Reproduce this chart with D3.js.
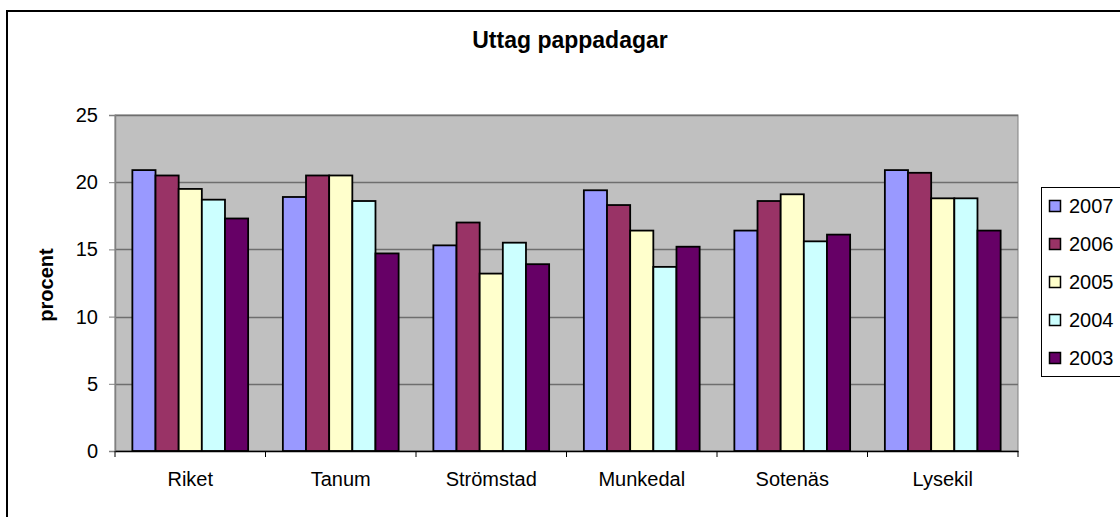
<!DOCTYPE html>
<html>
<head>
<meta charset="utf-8">
<script src="https://cdn.jsdelivr.net/npm/d3@7"></script>
<style>
  body { margin: 0; background: #fff; }
  text { font-family: "Liberation Sans", Arial, sans-serif; fill: #000; }
</style>
</head>
<body>
<svg class="chart" width="1120" height="517"></svg>
<script>
"use strict";

var categories = ['Riket', 'Tanum', 'Strömstad', 'Munkedal', 'Sotenäs', 'Lysekil'];
var years = ['2007', '2006', '2005', '2004', '2003'];
var colors = ['#9999FF', '#993366', '#FFFFCC', '#CCFFFF', '#660066'];
var v2007 = [20.9, 18.9, 15.3, 19.4, 16.4, 20.9];
var v2006 = [20.5, 20.5, 17.0, 18.3, 18.6, 20.7];
var v2005 = [19.5, 20.5, 13.2, 16.4, 19.1, 18.8];
var v2004 = [18.7, 18.6, 15.5, 13.7, 15.6, 18.8];
var v2003 = [17.3, 14.7, 13.9, 15.2, 16.1, 16.4];
var yTicks = [0, 5, 10, 15, 20, 25];

var series = [v2007, v2006, v2005, v2004, v2003];
var FONT = '"Liberation Sans", Arial, sans-serif';

var svg = d3.select('.chart');
var plot = {left: 115, top: 115, right: 1018, bottom: 451};

// outer frame (runs past right and bottom edge)
svg.append('rect')
  .attr('x', 7).attr('y', 11).attr('width', 1140).attr('height', 540)
  .attr('fill', '#fff').attr('stroke', '#000').attr('stroke-width', 2);

var x0 = d3.scaleBand().domain(categories).range([plot.left, plot.right]);
// excel style: gap width 150% of a bar
var x1 = d3.scaleBand().domain(years)
  .range([x0.bandwidth() * 0.75 / 6.5, x0.bandwidth() * 5.75 / 6.5]);
var y = d3.scaleLinear().domain([0, 25]).range([plot.bottom, plot.top]);

svg.append('rect')
  .attr('x', plot.left).attr('y', plot.top)
  .attr('width', plot.right - plot.left).attr('height', plot.bottom - plot.top)
  .attr('fill', '#C0C0C0').attr('stroke', '#808080').attr('stroke-width', 1);

// gridlines
svg.append('g').selectAll('line').data(yTicks.slice(1)).enter().append('line')
  .attr('x1', plot.left).attr('x2', plot.right)
  .attr('y1', function (d) { return Math.round(y(d)) + 0.5; })
  .attr('y2', function (d) { return Math.round(y(d)) + 0.5; })
  .attr('stroke', '#6e6e6e').attr('stroke-width', 1.5);

// bars
series.forEach(function (vals, si) {
  svg.append('g').selectAll('rect').data(vals).enter().append('rect')
    .attr('x', function (d, i) { return x0(categories[i]) + x1(years[si]); })
    .attr('y', function (d) { return y(d); })
    .attr('width', x1.bandwidth())
    .attr('height', function (d) { return y(0) - y(d); })
    .attr('fill', colors[si])
    .attr('stroke', '#000').attr('stroke-width', 1.8);
});

// y axis
var yAxis = d3.axisLeft(y).tickValues(yTicks).tickSize(6).tickPadding(11).tickFormat(d3.format('d'));
var ga = svg.append('g').attr('transform', 'translate(' + plot.left + ',0)').call(yAxis);
ga.select('.domain').attr('stroke', '#808080').attr('stroke-width', 1.5);
ga.selectAll('.tick line').attr('stroke', '#808080');
ga.selectAll('.tick text').attr('font-size', '20px').attr('font-family', FONT).attr('fill', '#000');

// x axis
var xAxis = d3.axisBottom(x0).tickSize(0).tickPadding(21);
var gx = svg.append('g').attr('transform', 'translate(0,' + plot.bottom + ')').call(xAxis);
gx.select('.domain').attr('stroke', '#000').attr('stroke-width', 1.5);
gx.selectAll('.tick text').attr('font-size', '20px').attr('font-family', FONT).attr('fill', '#000');
gx.selectAll('.sep').data(d3.range(categories.length + 1)).enter().append('line')
  .attr('x1', function (i) { return plot.left + i * x0.bandwidth(); })
  .attr('x2', function (i) { return plot.left + i * x0.bandwidth(); })
  .attr('y1', 0).attr('y2', 6).attr('stroke', '#000');

// title and axis label
svg.append('text').attr('x', 570).attr('y', 48).attr('text-anchor', 'middle')
  .attr('font-size', '23px').attr('font-weight', 'bold').text('Uttag pappadagar');
svg.append('text').attr('transform', 'translate(53,285) rotate(-90)').attr('text-anchor', 'middle')
  .attr('font-size', '20px').attr('font-weight', 'bold').text('procent');

// legend
var lg = svg.append('g');
lg.append('rect').attr('x', 1041.5).attr('y', 187.5).attr('width', 100).attr('height', 189)
  .attr('fill', '#fff').attr('stroke', '#000').attr('stroke-width', 1);
years.forEach(function (yr, i) {
  var base = 213 + i * 38;
  lg.append('rect').attr('x', 1049.5).attr('y', base - 12.5).attr('width', 11).attr('height', 11)
    .attr('fill', colors[i]).attr('stroke', '#000').attr('stroke-width', 1.5);
  lg.append('text').attr('x', 1069).attr('y', base).attr('font-size', '20px').text(yr);
});
</script>
</body>
</html>
